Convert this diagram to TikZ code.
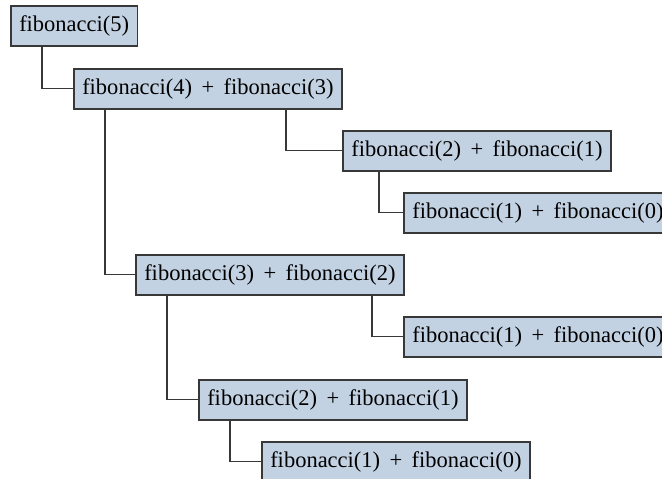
\documentclass[tikz,border=0pt]{standalone}
\usepackage{fontspec}
\setmainfont{Liberation Serif}
\usetikzlibrary{positioning}
\definecolor{CallFill}{HTML}{C3D2E3}
\definecolor{CallEdge}{HTML}{383838}
\newcommand{\plus}{\ \,+\ \,}
\tikzset{
  call/.style={draw=CallEdge, fill=CallFill, line width=0.75pt, anchor=north west,
    minimum height=20pt, inner xsep=4.25pt, inner ysep=0pt,
    font=\fontsize{11.25}{13}\selectfont},
  link/.style={draw=CallEdge, line width=0.65pt}
}

\begin{document}
\begin{tikzpicture}[x=0.5pt,y=-0.5pt]
  \useasboundingbox (0,0) rectangle (662,478);
  % calls, one box per level
  \node[call] (f5)  at (10,5)    {fibonacci(5)};
  \node[call] (f4)  at (73,68)   {fibonacci(4)\plus fibonacci(3)};
  \node[call] (f3a) at (342,130) {fibonacci(2)\plus fibonacci(1)};
  \node[call] (f2a) at (403,192) {fibonacci(1)\plus fibonacci(0)};
  \node[call] (f3b) at (135,254) {fibonacci(3)\plus fibonacci(2)};
  \node[call] (f2b) at (403,316) {fibonacci(1)\plus fibonacci(0)};
  \node[call] (f2c) at (198,379) {fibonacci(2)\plus fibonacci(1)};
  \node[call] (f1c) at (261,441) {fibonacci(1)\plus fibonacci(0)};
  % elbow links from caller to callee
  \draw[link] ([xshift=16pt]f5.south west)    |- (f4.west);
  \draw[link] ([xshift=106.5pt]f4.south west) |- (f3a.west);
  \draw[link] ([xshift=18.5pt]f3a.south west) |- (f2a.west);
  \draw[link] ([xshift=16pt]f4.south west)    |- (f3b.west);
  \draw[link] ([xshift=118.5pt]f3b.south west) |- (f2b.west);
  \draw[link] ([xshift=16pt]f3b.south west)   |- (f2c.west);
  \draw[link] ([xshift=16pt]f2c.south west)   |- (f1c.west);
\end{tikzpicture}
\end{document}
